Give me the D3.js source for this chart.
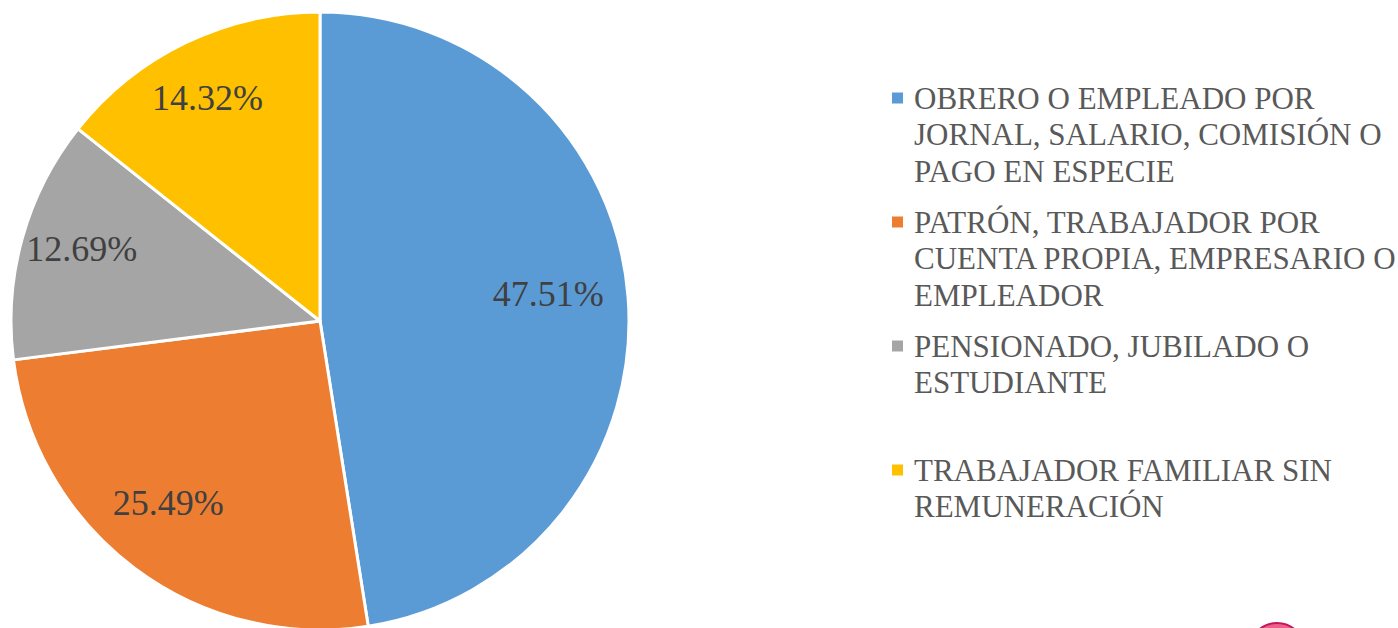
<!DOCTYPE html>
<html>
<head>
<meta charset="utf-8">
<script src="https://cdn.jsdelivr.net/npm/d3@7"></script>
<style>
  body { margin: 0; background: #fff; }
  svg { display: block; }
</style>
</head>
<body>
<script>
var width = 1398;
var height = 628;

// data
var categories = [
    "OBRERO O EMPLEADO POR JORNAL, SALARIO, COMISIÓN O PAGO EN ESPECIE",
    "PATRÓN, TRABAJADOR POR CUENTA PROPIA, EMPRESARIO O EMPLEADOR",
    "PENSIONADO, JUBILADO O ESTUDIANTE",
    "TRABAJADOR FAMILIAR SIN REMUNERACIÓN"
];
var legendLines = [
    ["OBRERO O EMPLEADO POR", "JORNAL, SALARIO, COMISIÓN O", "PAGO EN ESPECIE"],
    ["PATRÓN, TRABAJADOR POR", "CUENTA PROPIA, EMPRESARIO O", "EMPLEADOR"],
    ["PENSIONADO, JUBILADO O", "ESTUDIANTE"],
    ["TRABAJADOR FAMILIAR SIN", "REMUNERACIÓN"]
];
var values = [47.51, 25.49, 12.69, 14.32];
var colors = ["#5B9BD5", "#ED7D31", "#A5A5A5", "#FFC000"];

var font = "'Palatino Linotype', 'Book Antiqua', Palatino, 'Liberation Serif', serif";

var svg = d3.select("body")
    .append("svg")
    .attr("width", width)
    .attr("height", height)

var cx = 320, cy = 321, radius = 309;

var color = d3.scaleOrdinal()
    .domain(d3.range(values.length))
    .range(colors)

var pie = d3.pie()
    .sort(null)
    .value(function (d) { return d })

var arc = d3.arc()
    .innerRadius(0)
    .outerRadius(radius)

var labelArc = d3.arc()
    .innerRadius(radius * 0.77)
    .outerRadius(radius * 0.77)

var g = svg.append("g")
    .attr("transform", "translate(" + cx + "," + cy + ")")

var arcs = pie(values)

g.selectAll(".slice")
    .data(arcs)
    .enter()
    .append("path")
    .attr("class", "slice")
    .attr("d", arc)
    .attr("fill", function (d, i) { return color(i) })
    .attr("stroke", "#fff")
    .attr("stroke-width", 3)
    .attr("stroke-linejoin", "round")

g.selectAll(".label")
    .data(arcs)
    .enter()
    .append("text")
    .attr("class", "label")
    .attr("transform", function (d) { return "translate(" + labelArc.centroid(d) + ")" })
    .attr("text-anchor", "middle")
    .attr("dx", -9)
    .attr("dy", "0.1em")
    .style("font-family", font)
    .style("font-size", "36px")
    .attr("fill", "#404040")
    .text(function (d) { return d.data.toFixed(2) + "%" })

// legend
var legendX = 892, legendY0 = 98, entryGap = 124, lineGap = 36.5;

var legend = svg.selectAll(".legend")
    .data(categories)
    .enter()
    .append("g")
    .attr("class", "legend")
    .attr("transform", function (d, i) { return "translate(" + legendX + "," + (legendY0 + i * entryGap) + ")" })

legend.append("rect")
    .attr("x", 0)
    .attr("y", -5.5)
    .attr("width", 11)
    .attr("height", 11)
    .attr("fill", function (d, i) { return color(i) })

legend.append("text")
    .attr("x", 22)
    .attr("y", 0)
    .style("font-family", font)
    .style("font-size", "31px")
    .attr("fill", "#595959")
    .selectAll("tspan")
    .data(function (d, i) { return legendLines[i] })
    .enter()
    .append("tspan")
    .attr("x", 22)
    .attr("y", function (d, j) { return j * lineGap })
    .attr("dy", "0.35em")
    .text(function (d) { return d })

// corner logo fragment
svg.append("circle")
    .attr("cx", 1277)
    .attr("cy", 651)
    .attr("r", 28)
    .attr("fill", "#EF5F8E")
    .attr("stroke", "#C2185B")
    .attr("stroke-width", 2)
</script>
</body>
</html>
